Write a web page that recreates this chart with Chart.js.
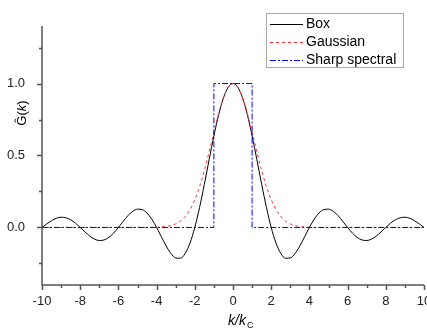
<!DOCTYPE html>
<html lang="en">
<head>
    <meta charset="UTF-8">
    <title>Filter transfer functions</title>
    <script src="https://cdn.jsdelivr.net/npm/chart.js"></script>
    <style>
        body {
            margin: 0;
            background: white;
        }
        #chart {
            width: 427px;
            height: 331px;
        }
    </style>
</head>
<body>
<div id="chart">
    <canvas id="filterChart" width="427" height="331"></canvas>
</div>
<script>
    // wavenumber k/kc, read every 0.25
    const kValues = [-10, -9.75, -9.5, -9.25, -9, -8.75, -8.5, -8.25, -8, -7.75, -7.5, -7.25, -7, -6.75, -6.5, -6.25,
        -6, -5.75, -5.5, -5.25, -5, -4.75, -4.5, -4.25, -4, -3.75, -3.5, -3.25, -3, -2.75, -2.5, -2.25,
        -2, -1.75, -1.5, -1.25, -1, -0.75, -0.5, -0.25, 0, 0.25, 0.5, 0.75, 1, 1.25, 1.5, 1.75,
        2, 2.25, 2.5, 2.75, 3, 3.25, 3.5, 3.75, 4, 4.25, 4.5, 4.75, 5, 5.25, 5.5, 5.75,
        6, 6.25, 6.5, 6.75, 7, 7.25, 7.5, 7.75, 8, 8.25, 8.5, 8.75, 9, 9.25, 9.5, 9.75, 10];

    const boxG = [0, 0.025, 0.047, 0.064, 0.071, 0.067, 0.053, 0.030, 0, -0.031, -0.060, -0.081, -0.091, -0.087, -0.069, -0.039,
        0, 0.042, 0.082, 0.112, 0.127, 0.124, 0.100, 0.057, 0, -0.065, -0.129, -0.181, -0.212, -0.214, -0.180, -0.108,
        0, 0.139, 0.300, 0.471, 0.637, 0.784, 0.900, 0.975, 1, 0.975, 0.900, 0.784, 0.637, 0.471, 0.300, 0.139,
        0, -0.108, -0.180, -0.214, -0.212, -0.181, -0.129, -0.065, 0, 0.057, 0.100, 0.124, 0.127, 0.112, 0.082, 0.042,
        0, -0.039, -0.069, -0.087, -0.091, -0.081, -0.060, -0.031, 0, 0.030, 0.053, 0.067, 0.071, 0.064, 0.047, 0.025, 0];

    const gaussG = [0, 0, 0, 0, 0, 0, 0, 0, 0, 0, 0, 0, 0, 0, 0, 0,
        0, 0, 0, 0, 0, 0, 0, 0, 0.001, 0.003, 0.007, 0.013, 0.025, 0.045, 0.077, 0.125,
        0.193, 0.284, 0.396, 0.526, 0.663, 0.794, 0.902, 0.975, 1, 0.975, 0.902, 0.794, 0.663, 0.526, 0.396, 0.284,
        0.193, 0.125, 0.077, 0.045, 0.025, 0.013, 0.007, 0.003, 0.001, 0, 0, 0, 0, 0, 0, 0,
        0, 0, 0, 0, 0, 0, 0, 0, 0, 0, 0, 0, 0, 0, 0, 0, 0];

    const sharpK = [-10, -1, -1, 1, 1, 10];
    const sharpG = [0, 0, 1, 1, 0, 0];

    const seriesNames = ['Box', 'Gaussian', 'Sharp spectral'];

    const xTicks = [-10, -8, -6, -4, -2, 0, 2, 4, 6, 8, 10];
    const xMinorTicks = [-9, -7, -5, -3, -1, 1, 3, 5, 7, 9];
    const yTicks = [-0.25, 0, 0.25, 0.5, 0.75, 1, 1.25];
    const yTickLabels = ['', '0.0', '', '0.5', '', '1.0', ''];

    // axis lines, tick marks, titles and the boxed legend
    const decorations = {
        id: 'decorations',
        afterDraw(chart) {
            const ctx = chart.ctx;
            const a = chart.chartArea;
            const x = chart.scales.x, y = chart.scales.y;
            ctx.save();
            ctx.strokeStyle = '#555';
            ctx.lineWidth = 1.5;
            ctx.beginPath();
            ctx.moveTo(a.left, a.top);
            ctx.lineTo(a.left, a.bottom);
            ctx.lineTo(a.right, a.bottom);
            yTicks.forEach((v, i) => {
                const py = Math.round(y.getPixelForValue(v)) + 0.5;
                const len = yTickLabels[i] ? 5 : 3;
                ctx.moveTo(a.left - len, py);
                ctx.lineTo(a.left, py);
            });
            xTicks.forEach(v => {
                const px = Math.round(x.getPixelForValue(v)) + 0.5;
                ctx.moveTo(px, a.bottom);
                ctx.lineTo(px, a.bottom + 5);
            });
            xMinorTicks.forEach(v => {
                const px = Math.round(x.getPixelForValue(v)) + 0.5;
                ctx.moveTo(px, a.bottom);
                ctx.lineTo(px, a.bottom + 3);
            });
            ctx.stroke();

            // y title: G hat (k)
            ctx.fillStyle = '#000';
            ctx.translate(22, 113);
            ctx.rotate(-Math.PI / 2);
            ctx.textBaseline = 'middle';
            ctx.font = '13px Arial';
            const p1 = 'Ĝ(', p3 = ')';
            const w1 = ctx.measureText(p1).width;
            ctx.font = 'italic 13px Arial';
            const w2 = ctx.measureText('k').width;
            ctx.font = '13px Arial';
            const w3 = ctx.measureText(p3).width;
            let sx = -(w1 + w2 + w3) / 2;
            ctx.fillText(p1, sx, 0);
            ctx.font = 'italic 13px Arial';
            ctx.fillText('k', sx + w1, 0);
            ctx.font = '13px Arial';
            ctx.fillText(p3, sx + w1 + w2, 0);
            ctx.setTransform(1, 0, 0, 1, 0, 0);

            // x title: k/kc
            ctx.textBaseline = 'alphabetic';
            ctx.font = 'italic 14px Arial';
            ctx.fillText('k/k', 228, 325);
            const wk = ctx.measureText('k/k').width;
            ctx.font = '9px Arial';
            ctx.fillText('C', 228 + wk + 1, 328);

            // legend
            ctx.strokeStyle = '#aaa';
            ctx.lineWidth = 1;
            ctx.strokeRect(266.5, 13.5, 137, 54);
            chart.data.datasets.forEach((ds, i) => {
                const ly = 24.5 + i * 18;
                ctx.beginPath();
                ctx.strokeStyle = ds.borderColor;
                ctx.setLineDash(ds.borderDash || []);
                ctx.moveTo(270, ly);
                ctx.lineTo(303, ly);
                ctx.stroke();
                ctx.setLineDash([]);
                ctx.fillStyle = '#000';
                ctx.font = '14px Arial';
                ctx.textBaseline = 'middle';
                ctx.fillText(ds.label, 306, ly);
            });
            ctx.restore();
        }
    };

    const ctx = document.getElementById('filterChart').getContext('2d');
    new Chart(ctx, {
        type: 'line',
        data: {
            datasets: [{
                label: seriesNames[0],
                data: kValues.map((k, i) => ({x: k, y: boxG[i]})),
                borderColor: '#000000',
                borderWidth: 1,
                cubicInterpolationMode: 'monotone',
                order: 2
            }, {
                label: seriesNames[1],
                data: kValues.map((k, i) => ({x: k, y: gaussG[i]})),
                borderColor: '#ff3333',
                borderWidth: 1,
                borderDash: [3, 3],
                cubicInterpolationMode: 'monotone',
                order: 1
            }, {
                label: seriesNames[2],
                data: sharpK.map((k, i) => ({x: k, y: sharpG[i]})),
                borderColor: '#0000ff',
                borderWidth: 1,
                borderDash: [6, 2, 2, 2],
                order: 0
            }]
        },
        options: {
            responsive: false,
            animation: false,
            elements: { point: { radius: 0 } },
            layout: { padding: { left: 0, right: 3, top: 26, bottom: 0 } },
            plugins: {
                legend: { display: false },
                tooltip: { enabled: false }
            },
            scales: {
                x: {
                    type: 'linear',
                    min: -10,
                    max: 10,
                    grid: { display: false },
                    border: { display: false },
                    afterBuildTicks: s => { s.ticks = xTicks.map(v => ({value: v})); },
                    afterFit: s => { s.height = 46; s.paddingLeft = 0; s.paddingRight = 0; },
                    ticks: {
                        color: '#222',
                        font: { family: 'Arial', size: 13 },
                        padding: 1,
                        maxRotation: 0,
                        callback: v => String(v)
                    }
                },
                y: {
                    min: -0.4,
                    max: 1.4,
                    grid: { display: false },
                    border: { display: false },
                    afterBuildTicks: s => { s.ticks = yTicks.map(v => ({value: v})); },
                    afterFit: s => { s.width = 42; s.paddingTop = 0; s.paddingBottom = 0; },
                    ticks: {
                        color: '#222',
                        font: { family: 'Arial', size: 13 },
                        padding: 9,
                        callback: (v, i) => yTickLabels[i]
                    }
                }
            }
        },
        plugins: [decorations]
    });
</script>
</body>
</html>
